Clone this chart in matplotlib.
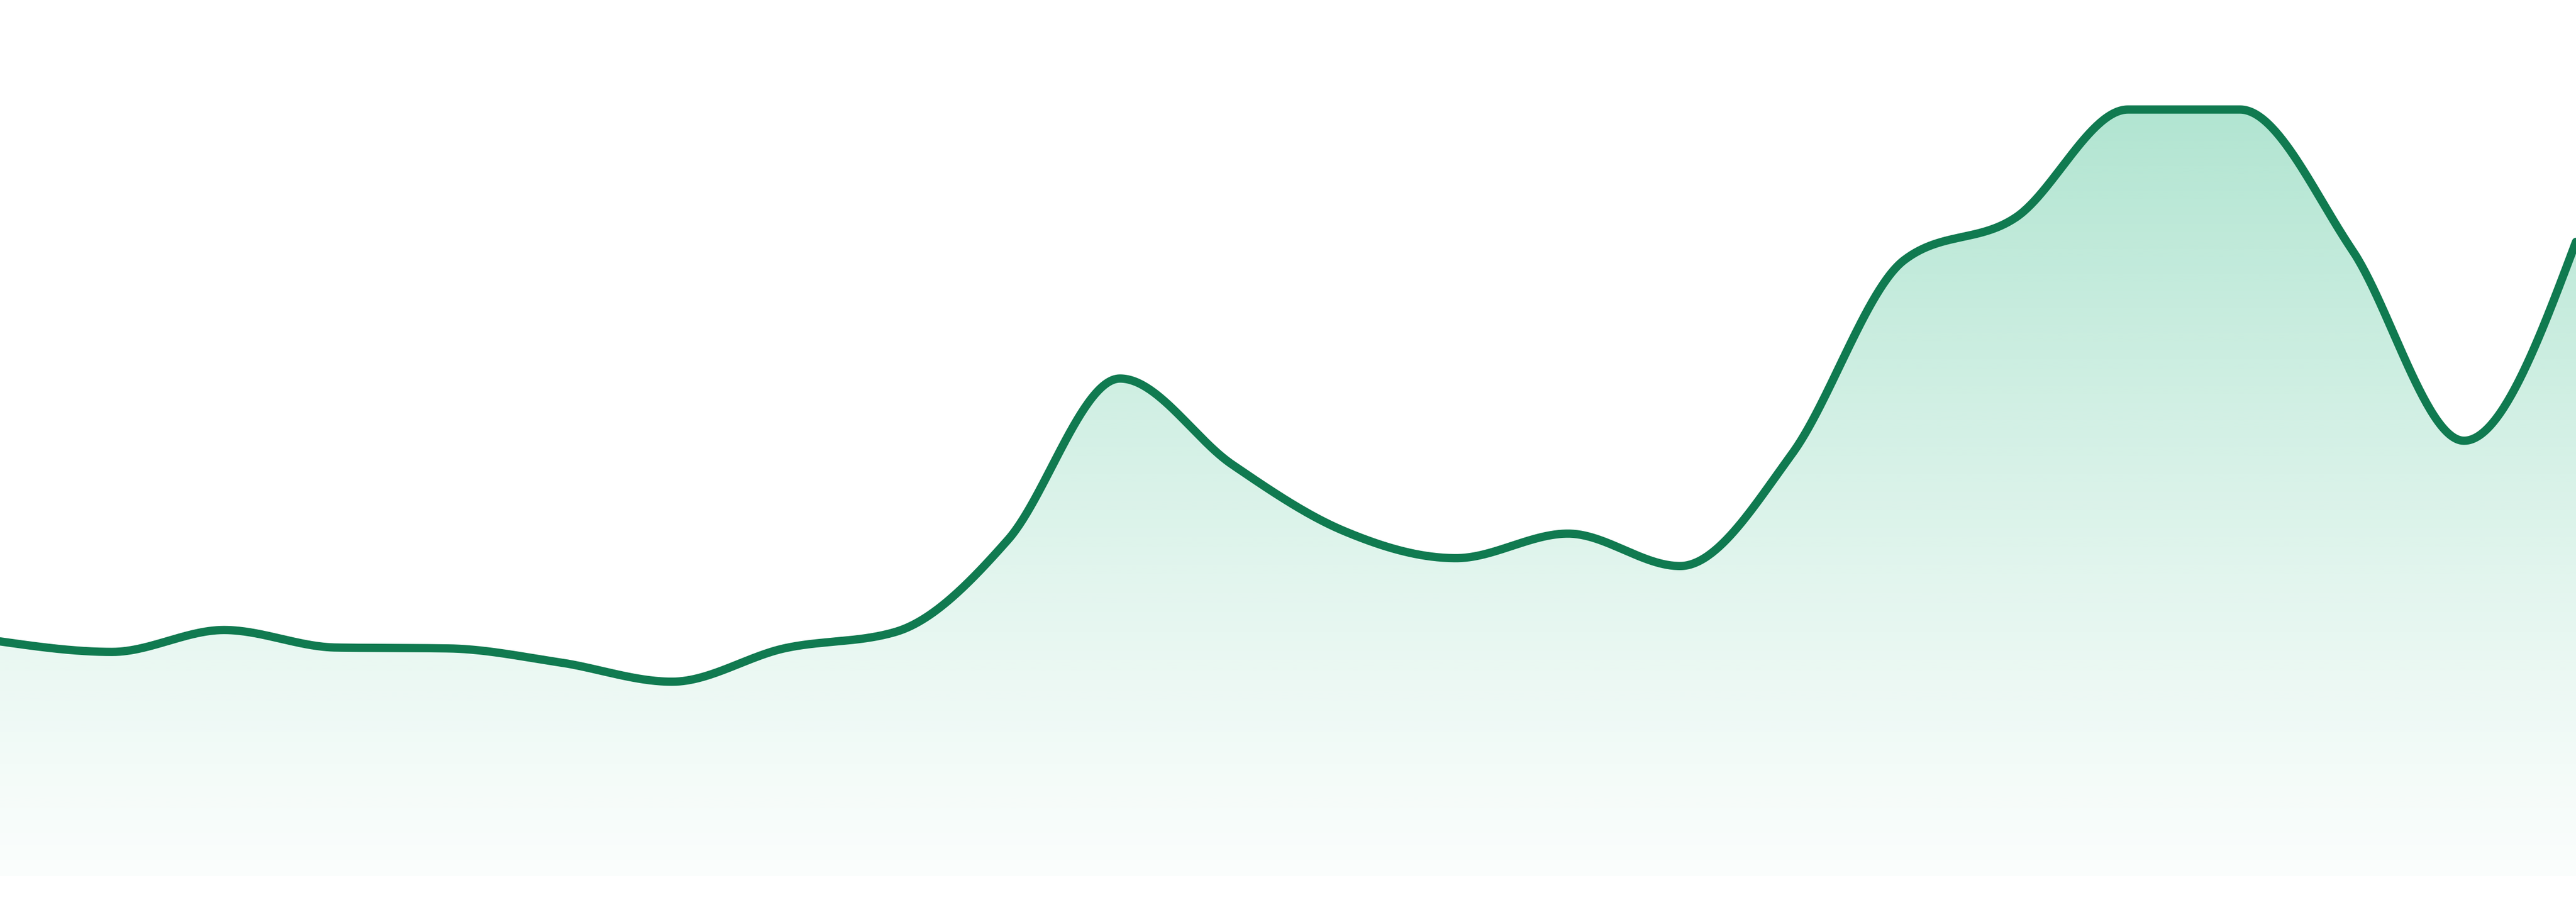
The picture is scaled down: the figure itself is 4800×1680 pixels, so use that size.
import numpy as np
import matplotlib
matplotlib.use("Agg")
import matplotlib.pyplot as plt
from matplotlib.colors import to_rgb

# ---- data (arbitrary units 0-100) ----
x_index = list(range(24))
values = [26.8, 25.6, 28.1, 26.1, 26.0, 24.4, 22.2, 26.0, 27.9, 38.4, 56.8, 47.0,
          39.4, 36.3, 39.1, 35.4, 48.2, 70.3, 75.2, 87.5, 87.5, 71.5, 49.7, 72.4]

LINE_COLOR = "#107a50"
FILL_COLOR = "#1ab278"


def monotone_x(x, y, n_per_seg=60):
    """d3.curveMonotoneX style interpolation (Fritsch-Carlson / Steffen)."""
    x = np.asarray(x, float)
    y = np.asarray(y, float)
    n = len(x)
    h = np.diff(x)
    s = np.diff(y) / h
    t = np.zeros(n)

    def sgn(v):
        return -1.0 if v < 0 else 1.0

    for i in range(1, n - 1):
        h0, h1 = h[i - 1], h[i]
        s0, s1 = s[i - 1], s[i]
        p = (s0 * h1 + s1 * h0) / (h0 + h1)
        t[i] = (sgn(s0) + sgn(s1)) * min(abs(s0), abs(s1), 0.5 * abs(p))
    t[0] = (3 * s[0] - t[1]) / 2
    t[-1] = (3 * s[-1] - t[-2]) / 2

    xs, ys = [], []
    for i in range(n - 1):
        u = np.linspace(0, 1, n_per_seg, endpoint=(i == n - 2))
        dx = h[i]
        h00 = 2 * u**3 - 3 * u**2 + 1
        h10 = u**3 - 2 * u**2 + u
        h01 = -2 * u**3 + 3 * u**2
        h11 = u**3 - u**2
        xs.append(x[i] + u * dx)
        ys.append(h00 * y[i] + h10 * dx * t[i] + h01 * y[i + 1] + h11 * dx * t[i + 1])
    return np.concatenate(xs), np.concatenate(ys)


fig = plt.figure(figsize=(16, 5.6), dpi=300)
ax = fig.add_axes([0, 48 / 1680, 1, 1632 / 1680])
ax.set_xlim(0, 23)
ax.set_ylim(0, 100)
ax.axis("off")

xs, ys = monotone_x(x_index, values)

# gradient fill clipped to the area under the curve
poly = ax.fill_between(xs, ys, 0, facecolor="none", edgecolor="none")
top = max(values)
rgb = np.array(to_rgb(FILL_COLOR))
nrows = 256
f = np.linspace(1, 0, nrows)  # 1 at top -> 0 at bottom
alpha = 0.02 + 0.32 * f ** 1.15
grad = np.zeros((nrows, 2, 4))
grad[..., :3] = rgb
grad[..., 3] = alpha[:, None]
im = ax.imshow(grad, extent=[0, 23, 0, top], origin="upper", aspect="auto",
               interpolation="bilinear", zorder=1)
path = poly.get_paths()[0]
im.set_clip_path(path, transform=ax.transData)

ax.plot(xs, ys, color=LINE_COLOR, lw=3.7, solid_capstyle="round",
        solid_joinstyle="round", zorder=3)

fig.savefig("out.png", dpi=300, facecolor="white")
